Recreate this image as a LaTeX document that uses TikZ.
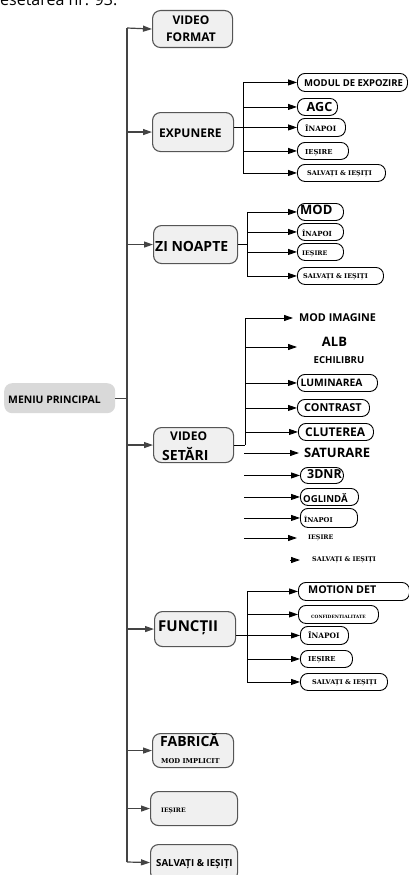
\documentclass[tikz,border=0pt]{standalone}
\usepackage{fontspec}
\setmainfont{Open Sans}
\newfontfamily\srf{DejaVu Serif}
\usetikzlibrary{arrows.meta}
\definecolor{boxfill}{HTML}{F0F0F0}
\definecolor{boxdraw}{HTML}{555555}
\definecolor{menufill}{HTML}{D9D9D9}
\definecolor{trunkcol}{HTML}{444444}
\newcommand\myfs[1]{\fontsize{#1}{#1}\selectfont}
\begin{document}
\begin{tikzpicture}[x=1pt,y=-1pt,
 mainbox/.style={draw=boxdraw, fill=boxfill, rounded corners=8pt, line width=1.1pt, inner sep=0, anchor=north west},
 subbox/.style={draw=black, fill=white, rounded corners=7.5pt, line width=0.9pt, inner sep=0, anchor=north west},
 txt/.style={inner sep=0, anchor=west},
 stxt/.style={inner sep=0, anchor=west, font={\srf\bfseries\myfs{#1}}},
 btxt/.style={inner sep=0, anchor=west, font={\bfseries\myfs{#1}}},
 ctxt/.style={inner sep=0, anchor=center, font={\bfseries\myfs{#1}}},
 trunk/.style={draw=trunkcol, line width=1.4pt},
 tarr/.style={draw=trunkcol, line width=1.2pt, -{Triangle[length=9pt,width=6pt]}},
 sline/.style={draw=black, line width=0.9pt},
 arr/.style={draw=black, line width=0.9pt, -{Triangle[length=9pt,width=6pt]}}
]
\useasboundingbox (0,0) rectangle (409,875);

% cropped heading
\node[inner sep=0, anchor=base west, font=\myfs{16}] (head) at (0,6) {esetarea nr. 93.};

% ---------- main boxes ----------
\node[draw=none, fill=menufill, rounded corners=8pt, inner sep=0, anchor=north west, minimum width=111pt, minimum height=30pt] (menu) at (4,383) {};
\node[btxt=10.4] (menuT) at (8,400) {MENIU PRINCIPAL};

\node[mainbox, minimum width=80pt, minimum height=37pt] (vf) at (152,10) {};
\node[ctxt=12, align=center, font={\bfseries\fontsize{12}{17}\selectfont}] (vfT) at (191,28.5) {VIDEO\\FORMAT};

\node[mainbox, minimum width=81pt, minimum height=39pt] (exp) at (152,112) {};
\node[btxt=12] (expT) at (159,133) {EXPUNERE};

\node[mainbox, minimum width=84pt, minimum height=38pt] (zi) at (153,225) {};
\node[btxt=14] (ziT) at (155,246) {ZI NOAPTE};

\node[mainbox, minimum width=80pt, minimum height=35pt] (vs) at (153,427) {};
\node[btxt=12] (vsA) at (170,436) {VIDEO};
\node[btxt=14] (vsB) at (162,454) {SETĂRI};

\node[mainbox, minimum width=81pt, minimum height=35pt] (fn) at (154,611) {};
\node[btxt=15] (fnT) at (158,628) {FUNCȚII};

\node[mainbox, minimum width=81pt, minimum height=34pt] (fab) at (152,733) {};
\node[btxt=14] (fabA) at (160,740) {FABRICĂ};
\node[stxt=6.7] (fabB) at (161,761) {MOD IMPLICIT};

\node[mainbox, minimum width=87pt, minimum height=34pt] (ies) at (150,791) {};
\node[stxt=6.1] (iesT) at (161,811) {IEȘIRE};

\node[mainbox, minimum width=87pt, minimum height=36pt] (sal) at (150,844) {};
\node[btxt=9.7] (salT) at (156,864) {SALVAȚI \& IEȘIȚI};

% ---------- main trunk ----------
\coordinate (tT) at (127,28);
\coordinate (tB) at (127,862);
\draw[trunk] (tT) -- (tB);
\draw[trunk] (menu.east) -- (tT |- menu.east);
\draw[tarr] (tT) -- (vf.west);
\draw[tarr] (tT |- exp.west) -- (exp.west);
\draw[tarr] (tT |- zi.west) -- (zi.west);
\draw[tarr] (tT |- vs.west) -- (vs.west);
\draw[tarr] (tT |- fn.west) -- (fn.west);
\draw[tarr] (tT |- fab.west) -- (fab.west);
\draw[tarr] (tT |- ies.west) -- (ies.west);
\draw[tarr] (tB) -- (sal.west);

% ---------- EXPUNERE ----------
\node[subbox, minimum width=110pt, minimum height=18pt] (e1) at (297,73) {};
\node[btxt=9.5] (e1T) at (304,83) {MODUL DE EXPOZIRE};
\node[subbox, minimum width=40pt, minimum height=17pt] (e2) at (297,98) {};
\node[btxt=12.6] (e2T) at (306.5,106.5) {AGC};
\node[subbox, minimum width=48pt, minimum height=18pt] (e3) at (297,118) {};
\node[stxt=7.3] (e3T) at (305,128) {ÎNAPOI};
\node[subbox, minimum width=51pt, minimum height=17pt] (e4) at (297,142) {};
\node[stxt=6.8] (e4T) at (305,153) {IEȘIRE};
\node[subbox, minimum width=88pt, minimum height=17pt] (e5) at (297,164) {};
\node[stxt=6.5] (e5T) at (307,173.5) {SALVAȚI \& IEȘIȚI};

\coordinate (sE) at (243,0);
\draw[sline] (sE |- e1.west) -- (sE |- e5.west);
\draw[sline] (exp.east |- e3.west) -- (sE |- e3.west);
\foreach \n in {e1,e2,e3,e4,e5} \draw[arr] (sE |- \n.west) -- (\n.west);

% ---------- ZI NOAPTE ----------
\node[subbox, minimum width=46pt, minimum height=17pt] (z1) at (297,203) {};
\node[btxt=13] (z1T) at (300,210) {MOD};
\node[subbox, minimum width=46pt, minimum height=17pt] (z2) at (297,223) {};
\node[stxt=7] (z2T) at (302,233) {ÎNAPOI};
\node[subbox, minimum width=46pt, minimum height=17pt] (z3) at (297,243) {};
\node[stxt=6.3] (z3T) at (302,254) {IEȘIRE};
\node[subbox, minimum width=86pt, minimum height=17pt] (z4) at (297,267) {};
\node[stxt=6.5] (z4T) at (303,277) {SALVAȚI \& IEȘIȚI};

\coordinate (sZ) at (247,0);
\draw[sline] (sZ |- z1.west) -- (sZ |- z4.west);
\draw[sline] (zi.east) -- (sZ |- zi.east);
\foreach \n in {z1,z2,z3,z4} \draw[arr] (sZ |- \n.west) -- (\n.west);

% ---------- VIDEO SETARI ----------
\coordinate (sV) at (245,0);
\coordinate (v1a) at (293,318);
\node[btxt=10.8] (v1T) at (299,318) {MOD IMAGINE};
\coordinate (v2a) at (297,347);
\node[ctxt=13] (v2A) at (334.5,342) {ALB};
\node[ctxt=9.6] (v2B) at (339,360) {ECHILIBRU};
\node[subbox, minimum width=80pt, minimum height=17pt] (v3) at (297,374) {};
\node[btxt=10.3] (v3T) at (300.5,383) {LUMINAREA};
\node[subbox, minimum width=72pt, minimum height=17pt] (v4) at (297,399) {};
\node[btxt=10.9] (v4T) at (304,408) {CONTRAST};
\node[subbox, minimum width=75pt, minimum height=17pt] (v5) at (298,423) {};
\node[btxt=12] (v5T) at (305,432) {CLUTEREA};

\draw[sline] (sV |- v1a) -- (sV |- vs.east);
\draw[sline] (vs.east) -- (sV |- vs.east);
\draw[arr] (sV |- v1a) -- (v1a);
\draw[arr] (sV |- v2a) -- (v2a);
\foreach \n in {v3,v4,v5} \draw[arr] (sV |- \n.west) -- (\n.west);

\coordinate (sV2) at (244,0);
\coordinate (v6a) at (299,453);
\node[btxt=13] (v6T) at (304,453) {SATURARE};
\draw[arr] (sV2 |- v6a) -- (v6a);

\node[subbox, minimum width=43pt, minimum height=16pt] (v7) at (300,467) {};
\node[btxt=12.4] (v7T) at (307,474) {3DNR};
\node[subbox, minimum width=58pt, minimum height=17pt] (v8) at (300,488) {};
\node[btxt=9.6] (v8T) at (303,498) {OGLINDĂ};
\node[subbox, minimum width=57pt, minimum height=19pt] (v9) at (300,508) {};
\node[stxt=6.7] (v9T) at (304,519) {ÎNAPOI};
\foreach \n in {v7,v8,v9} \draw[arr] (sV2 |- \n.west) -- (\n.west);

\coordinate (v10a) at (297,538);
\node[stxt=6.3] (v10T) at (308,538) {IEȘIRE};
\draw[arr] (sV2 |- v10a) -- (v10a);

\coordinate (v11s) at (290,560);
\coordinate (v11a) at (300,560);
\node[stxt=6.4] (v11T) at (312,560) {SALVAȚI \& IEȘIȚI};
\draw[arr] (v11s) -- (v11a);

% ---------- FUNCTII ----------
\node[subbox, minimum width=111pt, minimum height=18pt] (f1) at (298,582) {};
\node[btxt=10.7] (f1T) at (308,590) {MOTION DET};
\node[subbox, minimum width=80pt, minimum height=18pt] (f2) at (298,605) {};
\node[stxt=4.4] (f2T) at (311,617) {CONFIDENTIALITATE};
\node[subbox, minimum width=48pt, minimum height=18pt] (f3) at (300,626) {};
\node[stxt=7.4] (f3T) at (308,635) {ÎNAPOI};
\node[subbox, minimum width=52pt, minimum height=17pt] (f4) at (300,650) {};
\node[stxt=6.8] (f4T) at (308,660) {IEȘIRE};
\node[subbox, minimum width=87pt, minimum height=17pt] (f5) at (300,673) {};
\node[stxt=6.5] (f5T) at (312,683) {SALVAȚI \& IEȘIȚI};

\coordinate (sF) at (247,0);
\draw[sline] (sF |- f1.west) -- (sF |- f5.west);
\draw[sline] (fn.east |- f3.west) -- (sF |- f3.west);
\foreach \n in {f1,f2,f3,f4,f5} \draw[arr] (sF |- \n.west) -- (\n.west);
\end{tikzpicture}
\end{document}
